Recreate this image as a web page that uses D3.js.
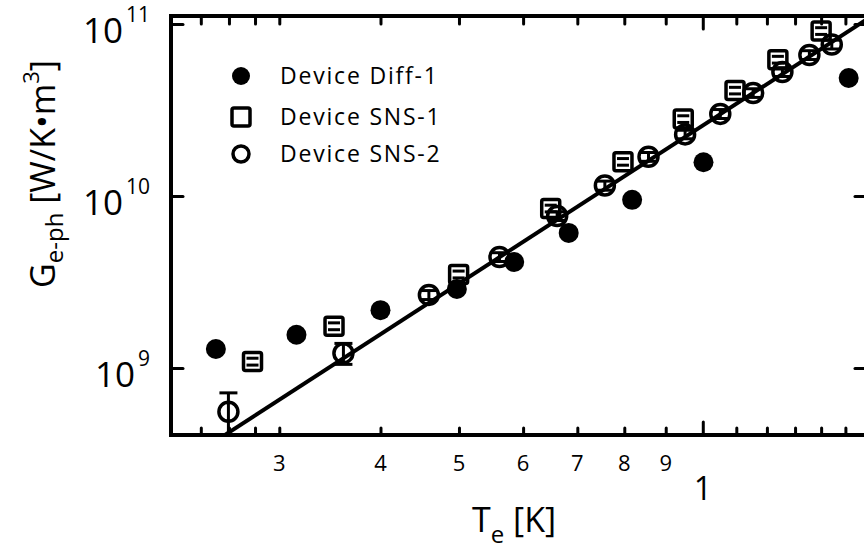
<!DOCTYPE html>
<html>
<head>
<meta charset="utf-8">
<script src="https://cdn.jsdelivr.net/npm/d3@7"></script>
<style>
  body { margin: 0; background: #fff; }
  text { font-family: "Open Sans", sans-serif; fill: #000; }
</style>
</head>
<body>
<svg id="chart" width="864" height="551" viewBox="0 0 864 551"></svg>
<script>

// Device Diff-1 (filled circles)
const diffT = [0.2505, 0.315, 0.40, 0.497, 0.585, 0.683, 0.818, 1.002, 1.514];
const diffG = [1.29e9, 1.56e9, 2.17e9, 2.88e9, 4.13e9, 6.1e9, 9.5e9, 1.57e10, 4.85e10];

// Device SNS-1 (open squares)
const sns1T = [0.278, 0.3505, 0.4995, 0.649, 0.797, 0.946, 1.096, 1.238, 1.40];
const sns1G = [1.09e9, 1.75e9, 3.5e9, 8.46e9, 1.58e10, 2.8e10, 4.1e10, 6.2e10, 9.1e10];
const sns1Err = [0.05e9, 0.08e9, 0.16e9, 0.38e9, 0.7e9, 1.25e9, 1.8e9, 2.8e9, 4.1e9];

// Device SNS-2 (open circles)
const sns2T = [0.2596, 0.36, 0.459, 0.561, 0.661, 0.757, 0.857, 0.951, 1.051, 1.154, 1.254, 1.354, 1.443];
const sns2G = [5.57e8, 1.22e9, 2.66e9, 4.42e9, 7.65e9, 1.15e10, 1.69e10, 2.28e10, 3.0e10, 3.97e10, 5.26e10, 6.6e10, 7.6e10];
const sns2Err = [1.6e8, 1.7e8, 1.6e8, 2.6e8, 4.5e8, 0.7e9, 1.0e9, 1.3e9, 1.8e9, 2.3e9, 3.1e9, 3.9e9, 4.5e9];

// fitted power law line (two end points)
const fitT = [0.25, 1.65];
const fitG = [3.75e8, 1.18e11];

// ticks
const xMinorTicks = [0.24, 0.26, 0.28, 0.3, 0.4, 0.5, 0.6, 0.7, 0.8, 0.9, 1.1, 1.2, 1.3, 1.4, 1.5];
const xMajorTicks = [1];
const xSmallLabels = [0.3, 0.4, 0.5, 0.6, 0.7, 0.8, 0.9];
const yTicks = [1e9, 1e10, 1e11];
const yTickExp = ["9", "10", "11"];

const legendNames = ["Device Diff-1", "Device SNS-1", "Device SNS-2"];

const svg = d3.select("#chart");

const mLeft = 171, mRight = 867, mTop = 16, mBottom = 435;

const x = d3.scaleLog().domain([0.2205, 1.595]).range([mLeft, mRight]);
const y = d3.scaleLog().domain([4.08e8, 1.112e11]).range([mBottom, mTop]);

svg.append("defs").append("clipPath").attr("id", "plotclip")
    .append("rect")
    .attr("x", mLeft).attr("y", mTop)
    .attr("width", mRight - mLeft).attr("height", mBottom - mTop);

// ticks through d3 axes, pointing inwards
function styleTicks(g) {
    g.select(".domain").remove();
    g.selectAll(".tick line")
        .attr("stroke", "#000")
        .attr("stroke-width", 3)
        .attr("stroke-linecap", "round");
}

svg.append("g").attr("transform", `translate(0,${mBottom})`)
    .call(d3.axisBottom(x).tickValues(xMinorTicks).tickSize(-7).tickFormat(""))
    .call(styleTicks);
svg.append("g").attr("transform", `translate(0,${mBottom})`)
    .call(d3.axisBottom(x).tickValues(xMajorTicks).tickSize(-13).tickFormat(""))
    .call(styleTicks);
svg.append("g").attr("transform", `translate(0,${mTop})`)
    .call(d3.axisTop(x).tickValues(xMinorTicks).tickSize(-8).tickFormat(""))
    .call(styleTicks);
svg.append("g").attr("transform", `translate(0,${mTop})`)
    .call(d3.axisTop(x).tickValues(xMajorTicks).tickSize(-13).tickFormat(""))
    .call(styleTicks);
svg.append("g").attr("transform", `translate(${mLeft},0)`)
    .call(d3.axisLeft(y).tickValues(yTicks).tickSize(-12).tickFormat(""))
    .call(styleTicks);
svg.append("g").attr("transform", `translate(${mRight},0)`)
    .call(d3.axisRight(y).tickValues(yTicks).tickSize(-12).tickFormat(""))
    .call(styleTicks);

// frame
svg.append("rect")
    .attr("x", mLeft).attr("y", mTop)
    .attr("width", mRight - mLeft).attr("height", mBottom - mTop)
    .attr("fill", "none")
    .attr("stroke", "#000")
    .attr("stroke-width", 4);

// tick labels
svg.selectAll(".xlab")
    .data(xSmallLabels)
    .enter()
    .append("text")
    .attr("x", d => x(d))
    .attr("y", 471)
    .attr("text-anchor", "middle")
    .style("font-size", "22px")
    .text(d => Math.round(d * 10));

svg.append("text")
    .attr("x", x(1))
    .attr("y", 500)
    .attr("text-anchor", "middle")
    .style("font-size", "32px")
    .text("1");

const ylab = svg.selectAll(".ylab")
    .data(yTicks)
    .enter()
    .append("text")
    .attr("x", 150)
    .attr("y", d => y(d) + 19)
    .attr("text-anchor", "end")
    .style("font-size", "35px");
ylab.append("tspan").text("10");
ylab.append("tspan")
    .attr("dx", 3)
    .attr("dy", -21)
    .style("font-size", "21px")
    .text((d, i) => yTickExp[i]);

// axis titles
const xt = svg.append("text")
    .attr("x", 472)
    .attr("y", 532)
    .style("font-size", "34px");
xt.append("tspan").text("T");
xt.append("tspan").attr("dy", 11).style("font-size", "24px").text("e");
xt.append("tspan").attr("dy", -11).text(" [K]");

const yt = svg.append("text")
    .attr("transform", "translate(55,174) rotate(-90)")
    .attr("text-anchor", "middle")
    .style("font-size", "34px");
yt.append("tspan").text("G");
yt.append("tspan").attr("dy", 8).style("font-size", "24px").text("e-ph");
yt.append("tspan").attr("dy", -8).text(" [W/K\u2022m");
yt.append("tspan").attr("dy", -16).style("font-size", "22px").text("3");
yt.append("tspan").attr("dy", 16).text("]");

// plot contents
const plot = svg.append("g").attr("clip-path", "url(#plotclip)");

const line = d3.line().x(d => x(d[0])).y(d => y(d[1]));
plot.append("path")
    .datum(fitT.map((t, i) => [t, fitG[i]]))
    .attr("d", line)
    .attr("fill", "none")
    .attr("stroke", "#000")
    .attr("stroke-width", 4);

// error bars (squares only show the caps inside the marker)
function errorBars(T, G, E, capW, stem) {
    const data = T.map((t, i) => ({ t: t, g: G[i], e: E[i] }));
    const eg = plot.append("g")
        .attr("stroke", "#000")
        .attr("stroke-width", 3);
    if (stem) {
        eg.selectAll(".ev").data(data).enter().append("line")
            .attr("x1", d => x(d.t)).attr("x2", d => x(d.t))
            .attr("y1", d => y(d.g + d.e)).attr("y2", d => y(Math.max(d.g - d.e, 1e8)));
    }
    eg.selectAll(".et").data(data).enter().append("line")
        .attr("x1", d => x(d.t) - capW).attr("x2", d => x(d.t) + capW)
        .attr("y1", d => y(d.g + d.e)).attr("y2", d => y(d.g + d.e));
    eg.selectAll(".eb").data(data).enter().append("line")
        .attr("x1", d => x(d.t) - capW).attr("x2", d => x(d.t) + capW)
        .attr("y1", d => y(Math.max(d.g - d.e, 1e8))).attr("y2", d => y(Math.max(d.g - d.e, 1e8)));
}
errorBars(sns1T, sns1G, sns1Err, 6, false);
errorBars(sns2T, sns2G, sns2Err, 9, true);

plot.selectAll(".diff")
    .data(diffT.map((t, i) => [t, diffG[i]]))
    .enter()
    .append("circle")
    .attr("cx", d => x(d[0]))
    .attr("cy", d => y(d[1]))
    .attr("r", 10)
    .attr("fill", "#000");

plot.selectAll(".sns1")
    .data(sns1T.map((t, i) => [t, sns1G[i]]))
    .enter()
    .append("rect")
    .attr("x", d => x(d[0]) - 9)
    .attr("y", d => y(d[1]) - 9)
    .attr("width", 18)
    .attr("height", 18)
    .attr("rx", 2)
    .attr("fill", "none")
    .attr("stroke", "#000")
    .attr("stroke-width", 3.5);

plot.selectAll(".sns2")
    .data(sns2T.map((t, i) => [t, sns2G[i]]))
    .enter()
    .append("circle")
    .attr("cx", d => x(d[0]))
    .attr("cy", d => y(d[1]))
    .attr("r", 9.5)
    .attr("fill", "none")
    .attr("stroke", "#000")
    .attr("stroke-width", 3.5);

// legend
const legend = svg.append("g");
const ly = [76, 117, 154];
legend.append("circle").attr("cx", 241).attr("cy", ly[0]).attr("r", 9).attr("fill", "#000");
legend.append("rect")
    .attr("x", 241 - 9).attr("y", ly[1] - 9)
    .attr("width", 18).attr("height", 18).attr("rx", 2)
    .attr("fill", "none").attr("stroke", "#000").attr("stroke-width", 3.5);
legend.append("circle").attr("cx", 241).attr("cy", ly[2]).attr("r", 8)
    .attr("fill", "none").attr("stroke", "#000").attr("stroke-width", 3.5);

legend.selectAll(".lt")
    .data(legendNames)
    .enter()
    .append("text")
    .attr("x", 280)
    .attr("y", (d, i) => ly[i] + 8)
    .style("font-size", "23px")
    .style("letter-spacing", "1.8px")
    .text(d => d);

</script>
</body>
</html>
